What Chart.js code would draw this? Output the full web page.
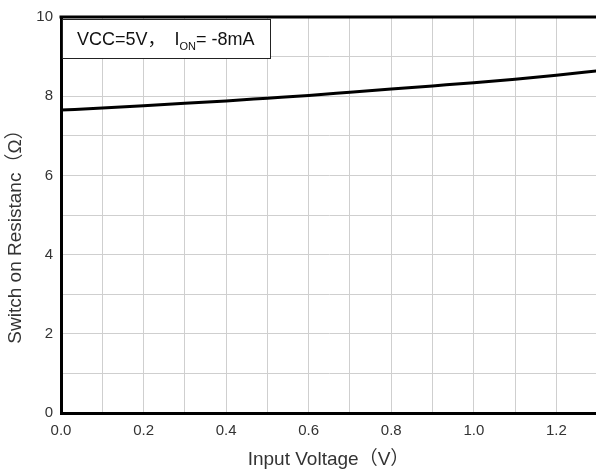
<!DOCTYPE html>
<html>
<head>
<meta charset="utf-8">
<script src="https://cdn.jsdelivr.net/npm/chart.js@4"></script>
<style>
  html, body { margin: 0; padding: 0; background: #fff; }
  #wrap { width: 596px; height: 472px; }
</style>
</head>
<body>
<div id="wrap"><canvas id="canvas"></canvas></div>
<script>
// values
const voltages = [0.0, 0.1, 0.2, 0.3, 0.4, 0.5, 0.6, 0.7, 0.8, 0.9, 1.0, 1.1, 1.2, 1.3];
const resistances = [7.65, 7.70, 7.76, 7.82, 7.88, 7.95, 8.02, 8.10, 8.18, 8.26, 8.34, 8.43, 8.53, 8.64];
const xTicks = [0.0, 0.1, 0.2, 0.3, 0.4, 0.5, 0.6, 0.7, 0.8, 0.9, 1.0, 1.1, 1.2];
const yTicks = [0, 1, 2, 3, 4, 5, 6, 7, 8, 9, 10];
const yTitle = 'Switch on Resistanc\uFF08\u03A9\uFF09';

const FONT = '"Liberation Sans", Arial, "Noto Sans CJK SC", sans-serif';

// top frame line, y title (sits a bit low in the original) and the condition box
const extras = {
  id: 'extras',
  afterDraw(chart) {
    const c = chart.ctx;
    const a = chart.chartArea;
    c.save();
    c.strokeStyle = '#000';
    c.lineWidth = 3;
    c.beginPath();
    c.moveTo(a.left - 1.5, a.top);
    c.lineTo(a.right, a.top);
    c.stroke();

    // y title
    c.save();
    c.translate(16, 232);
    c.rotate(-Math.PI / 2);
    c.font = '19px ' + FONT;
    c.fillStyle = '#333';
    c.textAlign = 'center';
    c.textBaseline = 'middle';
    c.fillText(yTitle, 0, 0);
    c.restore();

    // box
    const bx = a.left + 1, by = a.top + 2, bw = 209, bh = 40;
    c.fillStyle = '#fff';
    c.fillRect(bx, by, bw, bh);
    c.strokeStyle = '#222';
    c.lineWidth = 1;
    c.strokeRect(bx + 0.5, by + 0.5, bw - 1, bh - 1);

    c.fillStyle = '#111';
    c.textBaseline = 'alphabetic';
    c.font = '18px ' + FONT;
    let x = bx + 15, y = by + 26;
    const main = 'VCC=5V\uFF0C ';
    c.fillText(main, x, y);
    x += c.measureText(main).width + 4;
    c.fillText('I', x, y);
    x += c.measureText('I').width;
    c.font = '11px ' + FONT;
    c.fillText('ON', x, y + 5);
    x += c.measureText('ON').width;
    c.font = '18px ' + FONT;
    c.fillText('= -8mA', x, y);
    c.restore();
  }
};

const ctx = document.getElementById('canvas').getContext('2d');
const chart = new Chart(ctx, {
  type: 'line',
  data: {
    datasets: [{
      data: voltages.map((v, i) => ({ x: v, y: resistances[i] })),
      borderColor: '#000',
      borderWidth: 3,
      pointRadius: 0,
      cubicInterpolationMode: 'monotone',
      fill: false
    }]
  },
  options: {
    responsive: true,
    maintainAspectRatio: false,
    animation: false,
    layout: { padding: { top: 15, right: 0, left: 0, bottom: 0 } },
    plugins: { legend: { display: false }, tooltip: { enabled: false } },
    scales: {
      x: {
        type: 'linear',
        min: 0,
        max: 1.296,
        afterBuildTicks: (s) => { s.ticks = xTicks.map(v => ({ value: v })); },
        afterFit: (s) => { s.height = 59; },
        grid: { color: '#cfcfcf', lineWidth: 1, drawTicks: false },
        border: { color: '#000', width: 3 },
        ticks: {
          padding: 9,
          color: '#333',
          font: { family: FONT, size: 15 },
          maxRotation: 0,
          autoSkip: false,
          callback: (v) => (Math.round(v * 10) % 2 === 0 ? v.toFixed(1) : '')
        },
        title: {
          display: true,
          text: 'Input Voltage\uFF08V\uFF09',
          color: '#333',
          font: { family: FONT, size: 19 },
          padding: { top: 0, bottom: 1 }
        }
      },
      y: {
        min: 0,
        max: 10,
        afterBuildTicks: (s) => { s.ticks = yTicks.map(v => ({ value: v })); },
        afterFit: (s) => { s.width = 61; },
        grid: { color: '#cfcfcf', lineWidth: 1, drawTicks: false },
        border: { color: '#000', width: 3 },
        ticks: {
          padding: 8,
          color: '#333',
          font: { family: FONT, size: 15 },
          autoSkip: false,
          callback: (v) => (v % 2 === 0 ? String(v) : '')
        }
      }
    }
  },
  plugins: [extras]
});
</script>
</body>
</html>
